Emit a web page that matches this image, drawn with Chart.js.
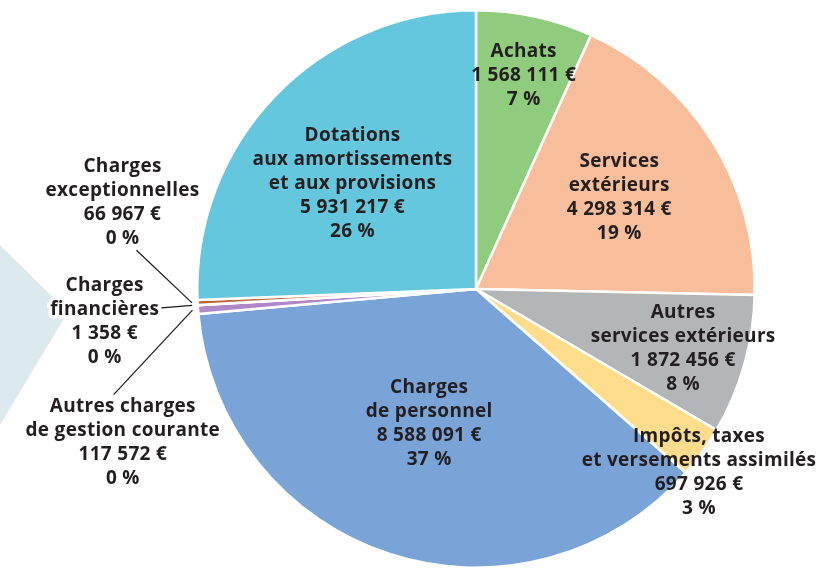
<!DOCTYPE html>
<html>
<head>
<meta charset="utf-8">
<script src="https://cdn.jsdelivr.net/npm/chart.js@4.4.1/dist/chart.umd.min.js"></script>
<style>
  html, body { margin: 0; padding: 0; background: #ffffff; }
  #wrap { width: 840px; height: 571px; position: relative; }
</style>
</head>
<body>
<div id="wrap"><canvas id="c" width="840" height="571"></canvas></div>
<script>
// ---- Data ----
const categories = [
  "Achats",
  "Services\nextérieurs",
  "Autres\nservices extérieurs",
  "Impôts, taxes\net versements assimilés",
  "Charges\nde personnel",
  "Autres charges\nde gestion courante",
  "Charges\nfinancières",
  "Charges\nexceptionnelles",
  "Dotations\naux amortissements\net aux provisions"
];
const amounts = [1568111, 4298314, 1872456, 697926, 8588091, 117572, 1358, 66967, 5931217];
const percents = [7, 19, 8, 3, 37, 0, 0, 0, 26];

// ---- Styles / layout (not data) ----
const colors = ["#8fcc7d", "#f8bd9b", "#b4b5b6", "#fddd8b", "#7aa4d7", "#b088c8", "#c0504d", "#b8653a", "#64c7de"];
// label block centres, in units of the pie radius from the pie centre
const labelAnchor = [
  [0.171, -0.764], [0.514, -0.329], [0.743, 0.214], [0.80, 0.657],
  [-0.168, 0.482], [-1.267, 0.55], [-1.332, 0.118], [-1.268, -0.311], [-0.443, -0.379]
];
// leader line starts (label side), radius units; null = no leader
const leaderStart = [null, null, null, null, null, [-1.30, 0.379], [-1.129, 0.068], [-1.218, -0.139], null];

function fmtEuro(v) {
  return String(v).replace(/\B(?=(\d{3})+(?!\d))/g, " ") + " €";
}

const FONT = "700 19px 'Open Sans', sans-serif";
const LINE_H = 24;

const decoPlugin = {
  id: 'deco',
  beforeDraw(chart) {
    const ctx = chart.ctx;
    ctx.save();
    ctx.fillStyle = "#dce9ee";
    ctx.beginPath();
    ctx.moveTo(0, 245);
    ctx.lineTo(68, 312);
    ctx.lineTo(0, 425);
    ctx.closePath();
    ctx.fill();
    ctx.restore();
  },
  afterDatasetsDraw(chart) {
    const ctx = chart.ctx;
    const arcs = chart.getDatasetMeta(0).data;
    const a0 = arcs[0];
    const cx = a0.x, cy = a0.y, R = a0.outerRadius;
    ctx.save();
    // leader lines
    ctx.strokeStyle = "#1a1a1a";
    ctx.lineWidth = 1.2;
    arcs.forEach((arc, i) => {
      if (!leaderStart[i]) return;
      const mid = (arc.startAngle + arc.endAngle) / 2;
      const ex = cx + Math.cos(mid) * R * 1.02;
      const ey = cy + Math.sin(mid) * R * 1.02;
      ctx.beginPath();
      ctx.moveTo(cx + leaderStart[i][0] * R, cy + leaderStart[i][1] * R);
      ctx.lineTo(ex, ey);
      ctx.stroke();
    });
    // labels
    ctx.font = FONT;
    ctx.textAlign = "center";
    ctx.textBaseline = "middle";
    ctx.lineJoin = "round";
    try { ctx.letterSpacing = "0.3px"; } catch (e) {}
    arcs.forEach((arc, i) => {
      const lines = categories[i].split("\n").concat([fmtEuro(amounts[i]), percents[i] + " %"]);
      const bx = cx + labelAnchor[i][0] * R;
      const by = cy + labelAnchor[i][1] * R;
      const top = by - (lines.length - 1) * LINE_H / 2;
      lines.forEach((t, k) => {
        const y = top + k * LINE_H;
        if (leaderStart[i]) {
          ctx.strokeStyle = "#ffffff";
          ctx.lineWidth = 7;
          ctx.strokeText(t, bx, y);
        }
        ctx.fillStyle = "#231f20";
        ctx.fillText(t, bx, y);
      });
    });
    ctx.restore();
  }
};

new Chart(document.getElementById('c'), {
  type: 'pie',
  data: {
    labels: categories.map(c => c.replace(/\n/g, ' ')),
    datasets: [{
      data: amounts,
      backgroundColor: colors,
      borderColor: "#ffffff",
      borderWidth: 2.5
    }]
  },
  options: {
    responsive: false,
    animation: false,
    layout: { padding: { left: 196, right: 84, top: 9, bottom: 2 } },
    plugins: {
      legend: { display: false },
      tooltip: { enabled: false }
    }
  },
  plugins: [decoPlugin]
});
</script>
</body>
</html>
